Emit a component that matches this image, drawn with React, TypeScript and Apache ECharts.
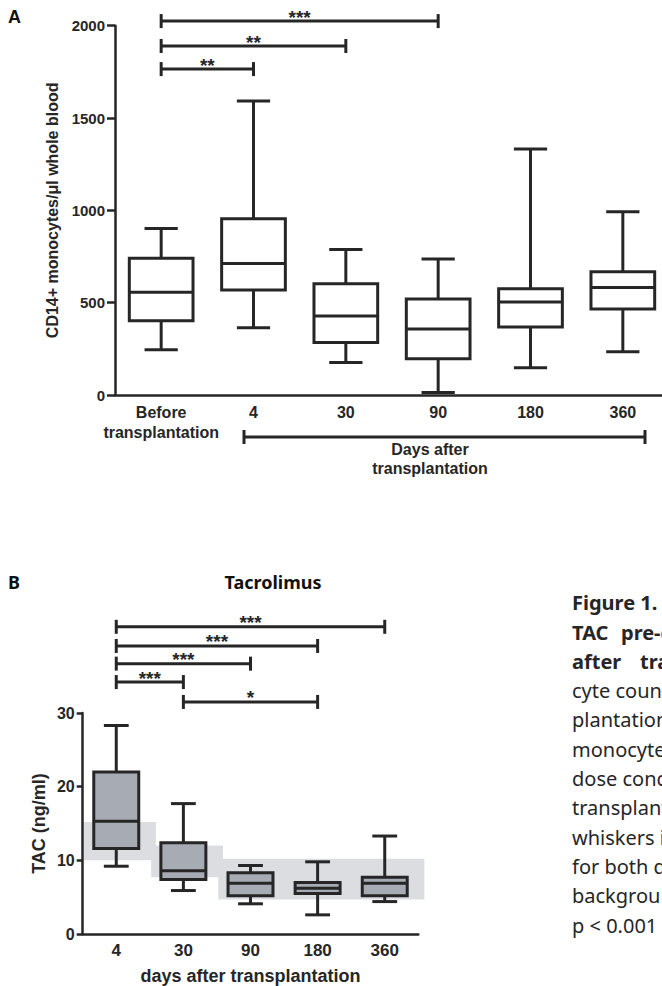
import React, { useEffect, useRef } from 'react';
import * as echarts from 'echarts';

// ---------- Panel A data ----------
const catsA = ['Before\ntransplantation', '4', '30', '90', '180', '360'];
// [min, q1, median, q3, max]
const boxA = [
  [245, 402, 556, 741, 902],
  [364, 569, 712, 955, 1592],
  [176, 284, 428, 603, 788],
  [13, 196, 357, 520, 737],
  [147, 368, 504, 576, 1332],
  [234, 466, 582, 668, 993],
];
// [fromCategoryIndex, toCategoryIndex, yLevel]
const sigA = [
  [0, 3, 2025],
  [0, 2, 1890],
  [0, 1, 1765],
];
const sigALabels = ['***', '**', '**'];

// ---------- Panel B data ----------
const catsB = ['4', '30', '90', '180', '360'];
const boxB = [
  [9.2, 11.6, 15.3, 22.0, 28.3],
  [5.9, 7.4, 8.6, 12.4, 17.7],
  [4.1, 5.2, 6.9, 8.3, 9.3],
  [2.6, 5.5, 6.2, 7.0, 9.8],
  [4.4, 5.2, 6.9, 7.7, 13.3],
];
// target ranges: [fromCategoryIndex, toCategoryIndex, low, high]
const rangesB = [
  [0, 0, 10, 15.2],
  [1, 1, 7.7, 12],
  [2, 4, 4.7, 10.2],
];
const sigB = [
  [0, 4, 41.7],
  [0, 3, 39.1],
  [0, 2, 36.7],
  [0, 1, 34.2],
  [1, 3, 31.5],
];
const sigBLabels = ['***', '***', '***', '***', '*'];

// caption (cut at the right edge of the page, as in the reference)
const captionLines = [
  { t: ['Figure 1.'], bold: true },
  { t: ['TAC', 'pre-d'], bold: true },
  { t: ['after', 'tran'], bold: true },
  { t: ['cyte count'], bold: false },
  { t: ['plantation'], bold: false },
  { t: ['monocyte'], bold: false },
  { t: ['dose conc'], bold: false },
  { t: ['transplant'], bold: false },
  { t: ['whiskers i'], bold: false },
  { t: ['for both dr'], bold: false },
  { t: ['backgroun'], bold: false },
  { t: ['p < 0.001'], bold: false },
];

const LINE = '#262626';
const FONT = '"Liberation Sans", Arial, sans-serif';
const CAP_FONT = '"Noto Sans", "Open Sans", sans-serif';

function makeBox(boxRatio: number, capRatio: number, fill: string) {
  return (params: any, api: any) => {
    const idx = api.value(0);
    const [x, yMin] = api.coord([idx, api.value(1)]);
    const yQ1 = api.coord([idx, api.value(2)])[1];
    const yMed = api.coord([idx, api.value(3)])[1];
    const yQ3 = api.coord([idx, api.value(4)])[1];
    const yMax = api.coord([idx, api.value(5)])[1];
    const bw = api.size([1, 0])[0];
    const hw = (bw * boxRatio) / 2;
    const cw = (bw * capRatio) / 2;
    const ls = { stroke: LINE, lineWidth: 3 };
    return {
      type: 'group',
      children: [
        { type: 'line', shape: { x1: x, y1: yQ3, x2: x, y2: yMax }, style: ls },
        { type: 'line', shape: { x1: x, y1: yQ1, x2: x, y2: yMin }, style: ls },
        { type: 'line', shape: { x1: x - cw, y1: yMax, x2: x + cw, y2: yMax }, style: ls },
        { type: 'line', shape: { x1: x - cw, y1: yMin, x2: x + cw, y2: yMin }, style: ls },
        {
          type: 'rect',
          shape: { x: x - hw, y: yQ3, width: 2 * hw, height: yQ1 - yQ3 },
          style: { fill, stroke: LINE, lineWidth: 3 },
        },
        { type: 'line', shape: { x1: x - hw, y1: yMed, x2: x + hw, y2: yMed }, style: ls },
      ],
    };
  };
}

function makeSig(labels: string[]) {
  return (params: any, api: any) => {
    const p0 = api.coord([api.value(0), api.value(2)]);
    const p1 = api.coord([api.value(1), api.value(2)]);
    const ls = { stroke: LINE, lineWidth: 3 };
    return {
      type: 'group',
      children: [
        { type: 'line', shape: { x1: p0[0], y1: p0[1], x2: p1[0], y2: p1[1] }, style: ls },
        { type: 'line', shape: { x1: p0[0], y1: p0[1] - 7, x2: p0[0], y2: p0[1] + 7 }, style: ls },
        { type: 'line', shape: { x1: p1[0], y1: p1[1] - 7, x2: p1[0], y2: p1[1] + 7 }, style: ls },
        {
          type: 'text',
          x: (p0[0] + p1[0]) / 2,
          y: p0[1] - 4,
          style: {
            text: labels[params.dataIndex],
            fill: LINE,
            font: `bold 19px ${FONT}`,
            align: 'center',
            verticalAlign: 'middle',
          },
        },
      ],
    };
  };
}

function renderRange(params: any, api: any) {
  const s = api.value(0);
  const e = api.value(1);
  const bw = api.size([1, 0])[0];
  const pTop = api.coord([s, api.value(3)]);
  const pBot = api.coord([e, api.value(2)]);
  const x0 = pTop[0] - 0.48 * bw;
  const x1 = pBot[0] + 0.59 * bw;
  return {
    type: 'rect',
    shape: { x: x0, y: pTop[1], width: x1 - x0, height: pBot[1] - pTop[1] },
    style: { fill: '#dcdde0' },
  };
}

const axisLineStyle = { lineStyle: { color: LINE, width: 2.5 } };

function buildOption(): any {
  const graphic: any[] = [
    { type: 'text', x: 8, y: 17, style: { text: 'A', font: `bold 18px ${FONT}`, fill: '#111', verticalAlign: 'middle' } },
    { type: 'text', x: 8, y: 582, style: { text: 'B', font: `bold 18px ${CAP_FONT}`, fill: '#111', verticalAlign: 'middle' } },
    {
      type: 'text', x: 273, y: 582,
      style: { text: 'Tacrolimus', font: `bold 18px ${CAP_FONT}`, fill: '#111', align: 'center', verticalAlign: 'middle' },
    },
    { type: 'line', shape: { x1: 244, y1: 437, x2: 645, y2: 437 }, style: { stroke: LINE, lineWidth: 3 } },
    { type: 'line', shape: { x1: 244, y1: 430, x2: 244, y2: 444 }, style: { stroke: LINE, lineWidth: 3 } },
    { type: 'line', shape: { x1: 645, y1: 430, x2: 645, y2: 444 }, style: { stroke: LINE, lineWidth: 3 } },
    {
      type: 'text', x: 430, y: 449,
      style: { text: 'Days after', font: `bold 16px ${FONT}`, fill: LINE, align: 'center', verticalAlign: 'middle' },
    },
    {
      type: 'text', x: 430, y: 468,
      style: { text: 'transplantation', font: `bold 16px ${FONT}`, fill: LINE, align: 'center', verticalAlign: 'middle' },
    },
  ];
  const secondX: Record<number, number> = { 1: 621, 2: 640 };
  captionLines.forEach((ln, i) => {
    const y = 602.7 + i * 29.3;
    const font = `${ln.bold ? 'bold ' : ''}20px ${CAP_FONT}`;
    ln.t.forEach((w, j) => {
      graphic.push({
        type: 'text',
        x: j === 0 ? 572 : secondX[i],
        y,
        style: { text: w, font, fill: '#262626', verticalAlign: 'middle' },
      });
    });
  });

  return {
    animation: false,
    backgroundColor: '#ffffff',
    grid: [
      { left: 115, top: 25.7, width: 554, height: 369.3 },
      { left: 82.7, top: 713, width: 335.6, height: 222 },
    ],
    xAxis: [
      {
        type: 'category', gridIndex: 0, data: catsA,
        axisLine: axisLineStyle,
        axisTick: { alignWithLabel: true, length: 7, lineStyle: { color: LINE, width: 2.5 } },
        axisLabel: { interval: 0, fontFamily: FONT, fontWeight: 'bold', fontSize: 16, lineHeight: 20, color: LINE, margin: 7 },
      },
      {
        type: 'category', gridIndex: 1, data: catsB,
        axisLine: axisLineStyle,
        axisTick: { alignWithLabel: true, length: 6, lineStyle: { color: LINE, width: 2.5 } },
        axisLabel: { interval: 0, fontFamily: FONT, fontWeight: 'bold', fontSize: 17, color: LINE, margin: 8 },
        name: 'days after transplantation',
        nameLocation: 'middle',
        nameGap: 33,
        nameTextStyle: { fontFamily: FONT, fontWeight: 'bold', fontSize: 18, color: LINE },
      },
    ],
    yAxis: [
      {
        type: 'value', gridIndex: 0, min: 0, max: 2000, interval: 500,
        axisLine: { show: true, ...axisLineStyle },
        axisTick: { show: true, length: 8, lineStyle: { color: LINE, width: 2.5 } },
        splitLine: { show: false },
        axisLabel: {
          fontFamily: FONT, fontWeight: 'bold', fontSize: 15, color: LINE, margin: 10,
          formatter: (v: number) => String(v),
        },
        name: 'CD14+ monocytes/μl whole blood',
        nameLocation: 'middle',
        nameGap: 46,
        nameTextStyle: { fontFamily: FONT, fontWeight: 'bold', fontSize: 16, color: LINE },
      },
      {
        type: 'value', gridIndex: 1, min: 0, max: 30, interval: 10,
        axisLine: { show: true, ...axisLineStyle },
        axisTick: { show: true, length: 6, lineStyle: { color: LINE, width: 2.5 } },
        splitLine: { show: false },
        axisLabel: {
          fontFamily: FONT, fontWeight: 'bold', fontSize: 16, color: LINE, margin: 8,
          formatter: (v: number) => String(v),
        },
        name: 'TAC (ng/ml)',
        nameLocation: 'middle',
        nameGap: 35,
        nameTextStyle: { fontFamily: FONT, fontWeight: 'bold', fontSize: 18, color: LINE },
      },
    ],
    series: [
      {
        type: 'custom', xAxisIndex: 0, yAxisIndex: 0, clip: false, z: 3,
        renderItem: makeBox(0.69, 0.36, '#ffffff'),
        encode: { x: 0, y: [1, 2, 3, 4, 5] },
        data: boxA.map((v, i) => [i, ...v]),
      },
      {
        type: 'custom', xAxisIndex: 0, yAxisIndex: 0, clip: false, z: 3,
        renderItem: makeSig(sigALabels),
        encode: { x: [0, 1], y: 2 },
        data: sigA,
      },
      {
        type: 'custom', xAxisIndex: 1, yAxisIndex: 1, clip: false, z: 1,
        renderItem: renderRange,
        encode: { x: [0, 1], y: [2, 3] },
        data: rangesB,
      },
      {
        type: 'custom', xAxisIndex: 1, yAxisIndex: 1, clip: false, z: 3,
        renderItem: makeBox(0.67, 0.37, '#a7abb4'),
        encode: { x: 0, y: [1, 2, 3, 4, 5] },
        data: boxB.map((v, i) => [i, ...v]),
      },
      {
        type: 'custom', xAxisIndex: 1, yAxisIndex: 1, clip: false, z: 3,
        renderItem: makeSig(sigBLabels),
        encode: { x: [0, 1], y: 2 },
        data: sigB,
      },
    ],
    graphic,
  };
}

export default function App() {
  const ref = useRef<HTMLDivElement>(null);
  useEffect(() => {
    const chart = echarts.init(ref.current!, null, { renderer: 'svg' });
    chart.setOption(buildOption());
    return () => chart.dispose();
  }, []);
  return (
    <div
      style={{
        position: 'fixed', left: 0, top: 0, width: 662, height: 986,
        overflow: 'hidden', background: '#ffffff',
      }}
    >
      <div ref={ref} style={{ width: 700, height: 986 }} />
    </div>
  );
}
